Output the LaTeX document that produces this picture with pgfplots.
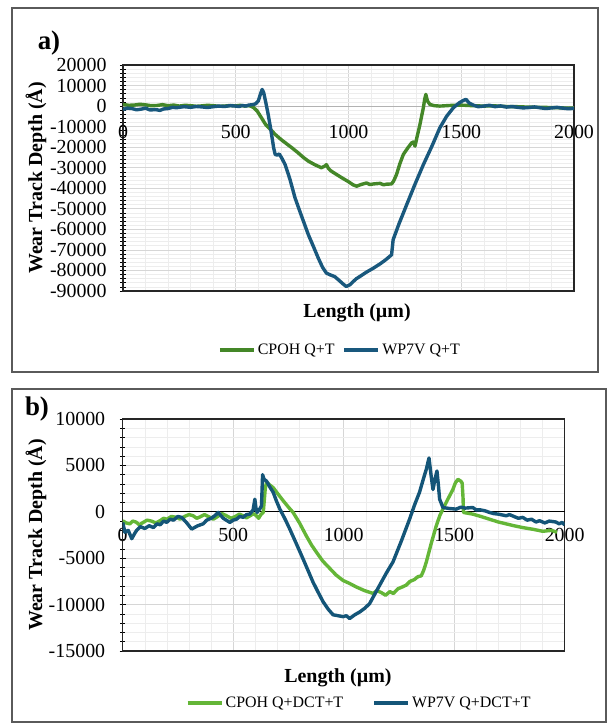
\documentclass[border=0pt]{standalone}
\usepackage{pgfplots}
\pgfplotsset{compat=1.18}
\usepackage{fontspec}
\setmainfont{Liberation Serif}
\definecolor{gA}{RGB}{68,135,40}
\definecolor{bA}{RGB}{25,88,125}
\definecolor{gB}{RGB}{100,182,55}
\definecolor{bB}{RGB}{20,85,120}
\definecolor{frm}{RGB}{90,90,90}

\pgfplotsset{
  common/.style={
    scale only axis,
    anchor=south west,
    xmin=0, xmax=2000,
    xtick={0,500,1000,1500,2000},
    minor x tick num=4,
    xtick style={draw=none},
    minor x tick style={draw=none},
    minor y tick num=4,
    ytick pos=left,
    scaled y ticks=false,
    scaled x ticks=false,
    tick align=center,
    major tick length=6bp,
    minor tick length=5bp,
    ytick style={black, line width=0.8bp},
    minor y tick style={black, line width=0.6bp},
    grid=both,
    major grid style={gray!32, line width=0.8bp},
    minor grid style={gray!14, line width=0.6bp},
    axis line style={black!85, line width=1.1bp},
    tick label style={font=\fontsize{20}{22}\selectfont},
    /pgf/number format/1000 sep={},
    /pgf/number format/assume math mode=true,
    label style={font=\bfseries\fontsize{20}{22}\selectfont},
    legend style={draw=none, fill=none, legend columns=2,
      font=\fontsize{16}{18}\selectfont, anchor=center},
    legend image code/.code={\draw[#1, line width=3.8bp] (0bp,0bp) -- (34bp,0bp);},
    every axis plot/.append style={line width=3.4bp, line join=round},
    extra y ticks={0},
    extra y tick labels={},
  }
}

\begin{document}
\begin{tikzpicture}
\useasboundingbox (0bp,0bp) rectangle (610bp,724bp);
\draw[frm, line width=1.3bp] (12bp,352bp) rectangle (598bp,716bp);
\draw[frm, line width=1.3bp] (12bp,2bp) rectangle (606bp,335bp);
\node[font=\bfseries\fontsize{27}{29}\selectfont] at (49bp,681bp) {a)};
\node[font=\bfseries\fontsize{27}{29}\selectfont] at (37bp,315bp) {b)};

% ---------------- panel a ----------------
\begin{axis}[common,
  at={(123bp,433bp)}, width=451bp, height=226bp,
  ymin=-90000, ymax=20000,
  ytick={-90000,-80000,-70000,-60000,-50000,-40000,-30000,-20000,-10000,0,10000,20000},
  extra y tick style={grid=major, major grid style={gray!60, line width=1bp}, ytick style={draw=none}},
  xticklabel style={yshift=172.7bp},
  yticklabel style={xshift=-10bp},
  xlabel={Length (µm)},
  ylabel={Wear Track Depth (Å)},
  xlabel style={at={(axis description cs:0.519,-0.097)}, anchor=center},
  ylabel style={at={(axis description cs:-0.193,0.5)}, anchor=center},
  legend style={at={(axis description cs:0.481,-0.261)},
    /tikz/every even column/.append style={column sep=6bp}},
]
\addplot[gA] coordinates {
(0,800) (25,400) (50,500) (75,900) (100,600) (125,200) (150,300) (175,700)
(200,200) (225,500) (250,0) (275,400) (300,200) (325,-100) (350,100) (375,400)
(400,200) (425,-100) (450,0) (475,300) (500,100) (520,400) (540,0) (555,200)
(566,0) (580,-800) (595,-2400) (610,-5000)
(632,-8900) (655,-11500) (675,-13800) (700,-16200) (725,-18300) (749,-20300)
(775,-22600) (800,-25000) (822,-26800) (850,-28500) (880,-30000) (895,-29200)
(902,-28500) (912,-30500) (924,-31700) (950,-33500) (975,-35200) (997,-36600)
(1020,-38300) (1036,-39000) (1055,-38200) (1080,-37400) (1095,-38200) (1110,-37900)
(1140,-37600) (1155,-38300) (1170,-38000) (1191,-37900) (1200,-36500) (1213,-33300)
(1228,-28000) (1243,-23600) (1262,-20500) (1280,-17900) (1288,-17500)
(1295,-19500) (1305,-14500) (1317,-8900) (1325,-4500) (1332,-800) (1338,3500)
(1343,5700) (1350,2500) (1361,800) (1380,200) (1405,0) (1450,300) (1494,500)
(1550,200) (1600,0) (1650,100) (1700,-200) (1750,-300) (1800,-500)
(1850,-600) (1900,-700) (1950,-900) (2000,-1000)
};
\addlegendentry{CPOH Q+T}
\addplot[bA] coordinates {
(0,-1600) (20,-1000) (40,-1200) (60,-1800) (80,-1500) (100,-1000) (120,-1900) (145,-1700)
(164,-2100) (180,-1400) (200,-1200) (220,-600) (237,-800) (270,-300)
(300,-600) (325,-200) (350,-400) (375,-700) (400,-300) (425,0) (450,-200) (475,200)
(500,0) (515,-200) (530,300) (545,0) (558,500)
(575,700) (588,1100) (600,2500) (610,6000) (617,8100) (624,6500) (632,2400)
(642,-3000) (653,-9800) (662,-16000) (668,-20300) (675,-23600) (684,-23800)
(693,-23300) (705,-25500) (719,-28500) (740,-35500) (763,-44700) (790,-53000)
(822,-62600) (845,-68500) (866,-74000) (885,-78500) (902,-81300) (920,-82200)
(939,-83000) (960,-85000) (975,-86500) (990,-87800) (1006,-87000)
(1020,-85500) (1035,-84000) (1051,-82900) (1080,-80800) (1110,-78900)
(1140,-76800) (1165,-74800) (1191,-72400) (1198,-65000) (1225,-57000)
(1258,-48000) (1295,-38000) (1332,-28500) (1370,-19500) (1405,-10600)
(1435,-5000) (1465,-800) (1490,1500) (1505,2500) (1521,3300) (1535,1500)
(1553,500) (1575,-300) (1600,0) (1625,400) (1650,-300) (1675,100) (1701,-500)
(1725,-200) (1750,-600) (1775,-900) (1800,-700) (1825,-400) (1849,-800)
(1875,-1200) (1900,-900) (1925,-600) (1950,-1000) (1975,-1300) (2000,-1100)
};
\addlegendentry{WP7V Q+T}
\end{axis}

% ---------------- panel b ----------------
\begin{axis}[common,
  at={(122.7bp,73bp)}, width=442bp, height=232bp,
  ymin=-15000, ymax=10000,
  ytick={-15000,-10000,-5000,0,5000,10000},
  extra y tick style={grid=major, major grid style={black, line width=1.2bp}, ytick style={draw=none}},
  xticklabel style={yshift=129.7bp},
  yticklabel style={xshift=-11bp},
  xlabel={Length (µm)},
  ylabel={Wear Track Depth (Å)},
  xlabel style={at={(axis description cs:0.487,-0.116)}, anchor=center},
  ylabel style={at={(axis description cs:-0.196,0.5)}, anchor=center},
  legend style={at={(axis description cs:0.535,-0.223)},
    /tikz/every even column/.append style={column sep=27bp}},
]
\addplot[gB] coordinates {
(0,-960) (15,-1200) (33,-1300) (45,-1000) (60,-1100) (75,-1400) (93,-1140) (110,-900)
(130,-1000) (150,-1200) (169,-960) (185,-700)
(200,-800) (220,-500) (244,-600) (260,-800) (280,-500) (300,-300) (319,-430) (335,-700)
(350,-550) (370,-300) (395,-600) (410,-800) (430,-500) (450,-200)
(470,-430) (490,-700) (510,-500) (528,-250) (545,-430) (560,-650) (580,-380) (592,-200)
(605,-430) (615,-700) (625,-300) (636,-70)
(645,2500) (651,3200) (665,2900) (681,2600) (700,2000) (726,1200) (750,500)
(771,-70) (800,-1200) (831,-2600) (855,-3600) (878,-4400) (905,-5300)
(937,-6100) (965,-6800) (997,-7400) (1025,-7700) (1057,-8100) (1095,-8500)
(1133,-8800) (1150,-8500) (1170,-8700) (1190,-9000) (1208,-8600) (1225,-8800)
(1245,-8300) (1265,-8100) (1283,-7900) (1300,-7500) (1320,-7300) (1335,-7000)
(1351,-6900) (1362,-6300) (1374,-5400) (1395,-3500) (1419,-1500) (1435,-400)
(1449,300) (1470,1300) (1494,2400) (1505,3100) (1517,3500) (1530,3300)
(1536,3100) (1540,1500) (1542,-70) (1560,-150) (1584,-250) (1620,-500)
(1660,-800) (1700,-1100) (1735,-1300) (1770,-1500) (1810,-1700) (1860,-1900)
(1901,-2100) (1940,-2000) (1965,-2200)
};
\addlegendentry{CPOH Q+DCT+T}
\addplot[bB] coordinates {
(0,-1140) (10,-2200) (25,-2000) (41,-2900) (55,-2300) (63,-2000) (80,-1600) (100,-1800)
(120,-1500) (139,-1700) (155,-1300) (170,-1400) (185,-1000) (199,-1140) (215,-800)
(230,-900) (250,-500) (267,-600) (290,-1200)
(312,-1860) (340,-1500) (364,-1300) (380,-900) (400,-700) (418,-400) (432,-70) (455,-700)
(485,-1140) (500,-900) (515,-800) (530,-500) (545,-600) (560,-300) (575,-250) (590,200) (598,1360) (603,400)
(608,-70) (620,300) (628,640) (633,4000) (640,3500) (651,3300) (665,2700)
(681,2100) (695,1200) (711,300) (735,-800) (756,-1860) (785,-3400)
(816,-5070) (840,-6400) (861,-7570) (885,-8700) (907,-9700) (930,-10500)
(952,-11100) (975,-11200) (997,-11300) (1012,-11200) (1027,-11500)
(1050,-11100) (1072,-10800) (1095,-10400) (1117,-9900) (1140,-8900)
(1163,-7900) (1193,-6600) (1223,-5400) (1260,-3200) (1298,-800) (1320,700)
(1343,2100) (1360,3500) (1374,4600) (1386,5800) (1395,4000) (1404,2400)
(1413,3500) (1422,4400) (1428,3000) (1434,1360) (1449,460) (1480,350)
(1509,290) (1530,500) (1550,400) (1584,460) (1600,200) (1620,200) (1640,100) (1660,-70) (1680,-200) (1700,-250)
(1735,-430) (1750,-300) (1770,-500) (1790,-700) (1810,-600) (1830,-900) (1850,-800) (1870,-1100) (1886,-960) (1910,-1200) (1930,-1000)
(1960,-1100) (1975,-1300) (1988,-1140) (2000,-1400)
};
\addlegendentry{WP7V Q+DCT+T}
\end{axis}
\end{tikzpicture}
\end{document}
